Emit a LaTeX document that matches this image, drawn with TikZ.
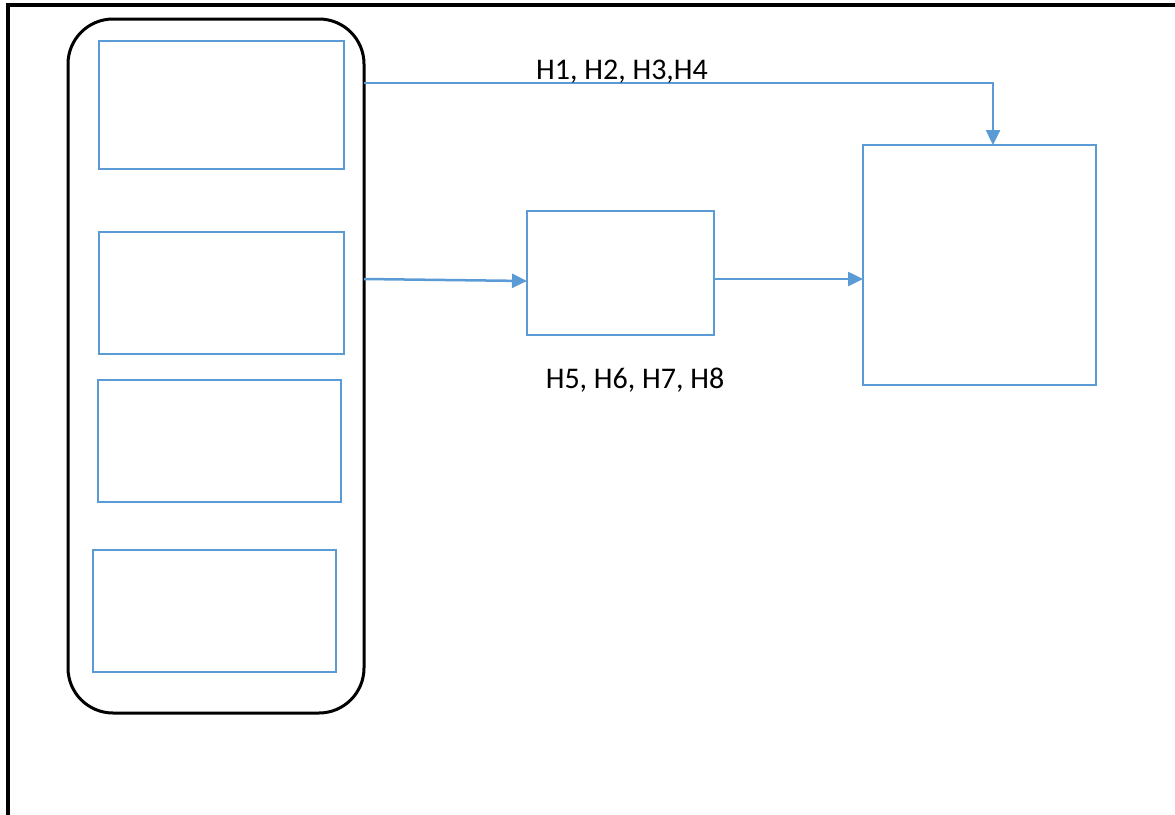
\documentclass[tikz,border=0pt]{standalone}
\usepackage{fontspec}
\setmainfont{Carlito}
\usetikzlibrary{arrows.meta,calc}
\definecolor{bl}{HTML}{5B9BD5}
\tikzset{
  x=1pt, y=1pt,
  bbox/.style={draw=bl, line width=2.5pt, inner sep=0pt, outer sep=0pt, anchor=north west},
  arr/.style={draw=bl, line width=2.5pt, -{Triangle[length=15pt,width=14pt]}},
  lbl/.style={font=\fontsize{30}{34}\selectfont, inner sep=0pt, anchor=base},
  grp/.style={draw=black, line width=3pt, rounded corners=45pt, inner sep=0pt, outer sep=0pt, anchor=north west}
}
\begin{document}
\begin{tikzpicture}
\useasboundingbox (0,0) rectangle (1175,-814);
% frame
\draw[line width=3.5pt] (8,-816) -- (8,-5) -- (1177,-5);
% group
\node[grp, minimum width=296pt, minimum height=694pt] (group) at (68,-19) {};
\node[bbox, minimum width=245pt, minimum height=128pt] (b1) at (99,-41) {};
\node[bbox, minimum width=245pt, minimum height=122pt] (b2) at (99,-232) {};
\node[bbox, minimum width=243pt, minimum height=122pt] (b3) at (98,-380) {};
\node[bbox, minimum width=243pt, minimum height=122pt] (b4) at (93,-550) {};
% middle and right
\node[bbox, minimum width=187pt, minimum height=124pt] (mid) at (527,-211) {};
\node[bbox, minimum width=233pt, minimum height=240pt] (rb) at (863,-145) {};
% connectors
\coordinate (s1) at ($(group.north east)+(0,-64)$);
\coordinate (t1) at ($(rb.north)+(13.5,0)$);
\draw[arr] (s1) -| (t1);
\coordinate (s2) at ($(group.north east)+(0,-260)$);
\coordinate (t2) at ($(mid.west)+(0,-8)$);
\draw[arr] (s2) -- (t2);
\coordinate (s3) at ($(mid.east)+(0,-6)$);
\draw[arr] (s3) -- (s3 -| rb.west);
% labels
\node[lbl] (l1) at (622,-79) {H1, H2, H3,H4};
\node[lbl] (l2) at (635,-388) {H5, H6, H7, H8};
\end{tikzpicture}
\end{document}
